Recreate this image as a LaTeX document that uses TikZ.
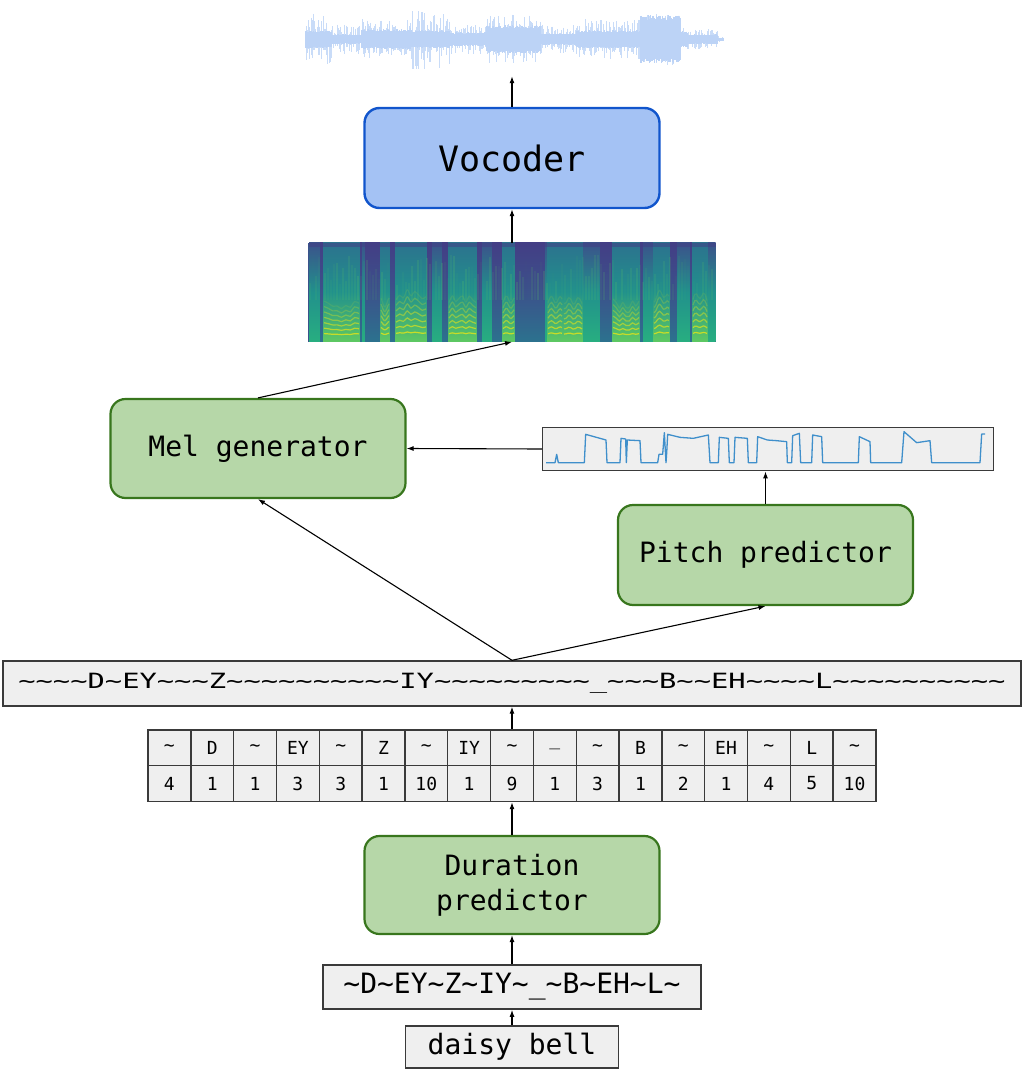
\documentclass[tikz,border=0pt]{standalone}
\usepackage{fontspec}
\setmainfont{DejaVu Sans Mono}
\newfontfamily\monowide[FakeStretch=1.37]{DejaVu Sans Mono}
\usetikzlibrary{arrows.meta,fit}
\ExplSyntaxOn
\cs_new:Npn \tldrep #1 {\prg_replicate:nn{#1}{\textasciitilde}}
\ExplSyntaxOff
\newcommand\tld{\textasciitilde}
\definecolor{vocfill}{HTML}{A4C2F4}
\definecolor{vocdraw}{HTML}{1155CC}
\definecolor{grnfill}{HTML}{B6D7A8}
\definecolor{grndraw}{HTML}{38761D}
\definecolor{gryfill}{HTML}{EFEFEF}
\definecolor{grydraw}{HTML}{3A3A3A}
\definecolor{wavec}{HTML}{BCD3F6}
\definecolor{pitchc}{HTML}{3F8FCB}
\definecolor{vA}{HTML}{433E85}
\definecolor{vB}{HTML}{3B528B}
\definecolor{vC}{HTML}{2C728E}
\definecolor{vD}{HTML}{21918C}
\definecolor{vE}{HTML}{28AE80}
\definecolor{vF}{HTML}{5EC962}
\definecolor{vG}{HTML}{ADDC30}
\definecolor{vH}{HTML}{E0E31A}
\begin{document}
\begin{tikzpicture}[x=1pt,y=-1pt,
  >={Latex[length=7pt,width=5pt]},
  arr/.style={->,line width=1.1pt,black},
  bluebox/.style={draw=vocdraw,fill=vocfill,line width=2.4pt,rounded corners=15pt,minimum width=295pt,minimum height=100pt,inner sep=0pt},
  greenbox/.style={draw=grndraw,fill=grnfill,line width=2.2pt,rounded corners=15pt,minimum width=295pt,minimum height=99pt,inner sep=0pt,align=center},
  graybox/.style={draw=grydraw,fill=gryfill,line width=1.4pt,inner sep=0pt},
  cell/.style={graybox,minimum width=42.82pt,minimum height=35.6pt,font=\fontsize{18}{20}\selectfont},
  bigtxt/.style={font=\fontsize{28}{35}\selectfont}]
\useasboundingbox (0,0) rectangle (1024,1073);

% ---------- waveform ----------
\node[inner sep=0pt,minimum width=418pt,minimum height=71pt] (wave) at (512,40.5) {};
\pgfmathsetseed{11}
\foreach \xa/\xb/\b/\s in {306/332/9/27, 332/362/5/15, 362/410/10/20, 410/450/9/30, 450/487/7/15, 487/540/14/25, 540/577/6/15, 577/641/9/20, 641/681/24/26, 681/687/8/12, 687/717/5/10, 717/723/1.5/3}{
  \pgfmathsetmacro\xs{\xa+1.2}
  \foreach \x in {\xa,\xs,...,\xb}{
    \pgfmathsetmacro\ha{\b*(0.8+0.2*rnd)}
    \pgfmathsetmacro\hb{\b*(0.8+0.2*rnd)}
    \draw[wavec,line width=1.4pt] (\x,39.3-\ha) -- (\x,39.3+\hb);
    \pgfmathsetmacro\sa{max(\ha,\s*(0.2+0.8*rnd))}
    \pgfmathsetmacro\sb{max(\hb,\s*(0.2+0.8*rnd))}
    \draw[wavec,line width=0.5pt,opacity=0.8] (\x,39.3-\sa) -- (\x,39.3+\sb);
  }
}

% ---------- vocoder ----------
\node[bluebox,font=\fontsize{35}{40}\selectfont] (vocoder) at (512,158) {Vocoder};

% ---------- spectrogram ----------
\node[inner sep=0pt,minimum width=406.7pt,minimum height=99pt] (spec) at (512,292.2) {};
\fill[vB] (spec.north west) rectangle (spec.south east);
\pgfmathsetseed{3}
\foreach \xa/\xb/\ty in {309/320/1, 320/323/0, 323/360/2, 360/362/0, 362/365/1, 365/380/0, 380/390/2, 390/395/0, 395/427/2, 427/432/0, 432/442/1, 442/448/0, 448/477/2, 477/482/0, 482/492/1, 492/502/0, 502/515/2, 515/545/0, 545/547/1, 547/563/2, 563/583/2, 583/600/1, 600/612/0, 612/640/2, 640/643/0, 643/653/1, 653/670/2, 670/677/0, 677/690/1, 690/692/0, 692/708/2, 708/715.7/1}{
  \ifcase\ty
    \shade[top color=vA,bottom color=vC,middle color=vB] (\xa,242.7) rectangle (\xb,341.7);
  \or
    \shade[top color=vB,bottom color=vE,middle color=vD] (\xa,242.7) rectangle (\xb,341.7);
  \or
    \shade[top color=vC,bottom color=vF,middle color=vD] (\xa,242.7) rectangle (\xb,341.7);
    \pgfmathsetmacro\amp{2.4*(rnd-0.5)}
    \foreach \k in {1,...,7}{
      \pgfmathsetmacro\op{0.95-0.12*\k}
      \draw[vH,line width=1.2pt,opacity=\op] plot[smooth,domain=\xa+1:\xb-1,samples=9] (\x,{339-\k*(5.5+\amp*sin(180*(\x-\xa)/(\xb-\xa))+0.5*sin(40*mod(\x,9)))});
    }
  \fi
}
\pgfmathsetseed{5}
\foreach \x in {310,313,...,714}{
  \pgfmathsetmacro\op{0.2*rnd}
  \pgfmathsetmacro\ya{255+30*rnd}
  \draw[vF,line width=1.5pt,opacity=\op] (\x,\ya) -- (\x,300);
}
\fill[vA,opacity=0.5] (309,242.7) rectangle (715.7,247);

% ---------- mel generator ----------
\node[greenbox,bigtxt] (melgen) at (258,448.5) {Mel generator};

% ---------- pitch contour ----------
\node[graybox,minimum width=450.6pt,minimum height=43.4pt] (pitchplot) at (768,449) {};
\begin{scope}[shift={(530,420)},scale=0.33333]
\draw[pitchc,line width=1.3pt,line join=round] (48,128) -- (75,128) -- (80,103) -- (85,128) -- (163,128) -- (167,43) -- (228,60) -- (231,128) -- (270,128) -- (273,55) -- (287,57) -- (289,128) -- (292,60) -- (330,62) -- (333,128) -- (383,128) -- (387,103) -- (398,103) -- (403,38) -- (408,128) -- (410,100) -- (413,43) -- (450,52) -- (490,55) -- (535,45) -- (540,128) -- (565,128) -- (568,52) -- (595,55) -- (598,128) -- (612,128) -- (615,52) -- (652,55) -- (655,128) -- (680,128) -- (683,50) -- (712,60) -- (740,62) -- (770,65) -- (772,128) -- (785,128) -- (788,47) -- (808,40) -- (812,128) -- (845,128) -- (848,45) -- (875,50) -- (878,128) -- (985,128) -- (988,50) -- (1020,65) -- (1022,128) -- (1115,128) -- (1122,35) -- (1160,68) -- (1200,62) -- (1205,128) -- (1350,128) -- (1355,42) -- (1365,42);
\end{scope}

% ---------- pitch predictor ----------
\node[greenbox,bigtxt,minimum height=100pt] (pitchpred) at (765.5,555) {Pitch predictor};

% ---------- aligned sequence ----------
\node[graybox,minimum width=1018pt,minimum height=45pt,font=\monowide\fontsize{21}{24}\selectfont] (align) at (512,683.5)
  {\tldrep{4}D\tldrep{1}EY\tldrep{3}Z\tldrep{10}IY\tldrep{9}\_\tldrep{3}B\tldrep{2}EH\tldrep{4}L\tldrep{10}};

% ---------- duration table ----------
\foreach \s [count=\i] in {\tld,D,\tld,EY,\tld,Z,\tld,IY,\tld,\_,\tld,B,\tld,EH,\tld,L,\tld}{
  \node[cell] (t\i) at ({148+42.82*(\i-0.5)},747.9) {\s};
}
\foreach \s [count=\i] in {4,1,1,3,3,1,10,1,9,1,3,1,2,1,4,5,10}{
  \node[cell] (n\i) at ({148+42.82*(\i-0.5)},783.5) {\s};
}
\node[fit=(t1)(n17),inner sep=0pt] (table) {};

% ---------- duration predictor ----------
\node[greenbox,bigtxt,minimum height=98pt] (durpred) at (512,885) {Duration\\predictor};

% ---------- phonemes and text ----------
\node[graybox,minimum width=378.3pt,minimum height=44.3pt,bigtxt] (phon) at (512,987) {\tld D\tld EY\tld Z\tld IY\tld\_\tld B\tld EH\tld L\tld};
\node[graybox,minimum width=213.3pt,minimum height=42.3pt,bigtxt] (text) at (512,1047) {daisy bell};

% ---------- connectors ----------
\draw[arr] (vocoder.north) -- (wave.south);
\draw[arr] (spec.north) -- (vocoder.south);
\draw[arr] (melgen.north) -- (spec.south);
\draw[arr] (pitchplot.west) -- (melgen.east);
\draw[arr] (pitchpred.north) -- (pitchpred.north |- pitchplot.south);
\draw[arr] (align.north) -- (melgen.south);
\draw[arr] (align.north) -- (pitchpred.south);
\draw[arr] (table.north) -- (table.north |- align.south);
\draw[arr] (durpred.north) -- (durpred.north |- table.south);
\draw[arr] (phon.north) -- (durpred.south);
\draw[arr] (text.north) -- (phon.south);
\end{tikzpicture}
\end{document}
